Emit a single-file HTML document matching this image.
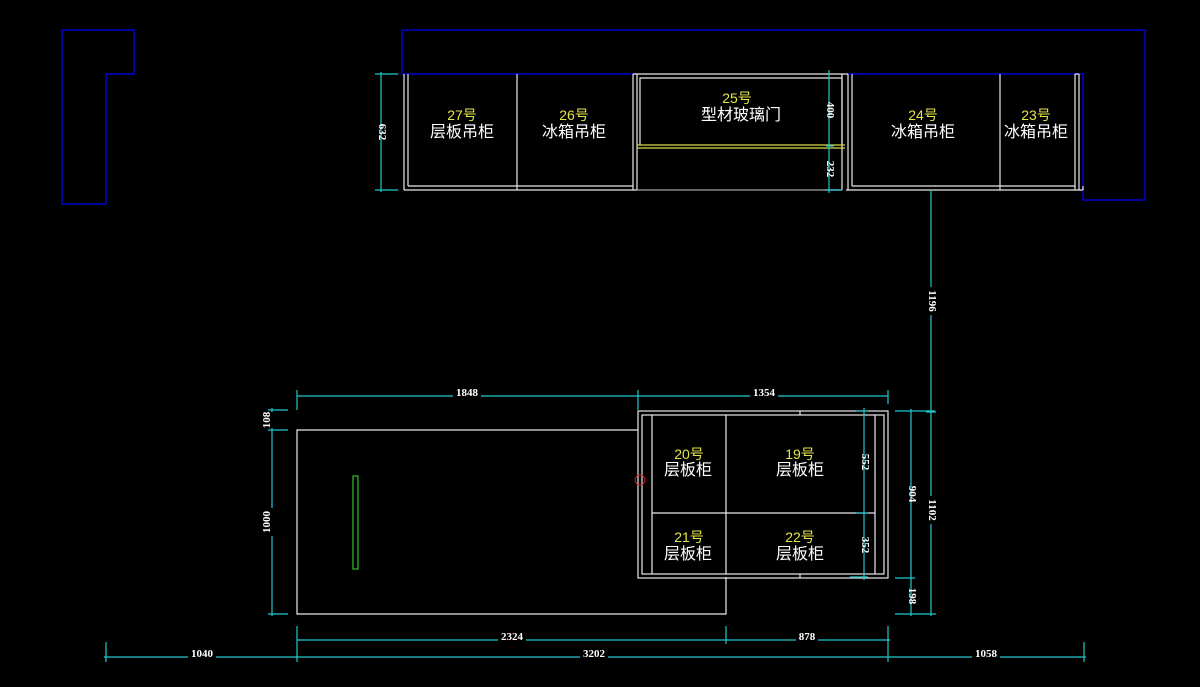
<!DOCTYPE html>
<html><head><meta charset="utf-8"><style>
html,body{margin:0;padding:0;background:#000;width:1200px;height:687px;overflow:hidden}
svg{display:block}
.d{font-family:"Liberation Serif",serif;font-size:11px;fill:#fff;font-weight:bold}
.y{font-family:"Liberation Sans","Noto Sans CJK SC",sans-serif;font-size:14px;fill:#e6e64a;text-anchor:middle}
.w{font-family:"Liberation Sans","Noto Sans CJK SC",sans-serif;font-size:16px;fill:#fff;text-anchor:middle}
</style></head><body>
<svg width="1200" height="687" viewBox="0 0 1200 687" xmlns="http://www.w3.org/2000/svg">
<g fill="none" stroke="#0000d0" stroke-width="1.5">
<polyline points="106,204 62,204 62,30 134,30 134,74 106,74 106,204"/>
<polyline points="402,74 402,30 1145,30 1145,200 1083,200 1083,74 848,74"/>
<line x1="402" y1="74" x2="633" y2="74"/>
</g>
<g fill="none" stroke="#e8e8e8" stroke-width="1.2">
<line x1="404" y1="74" x2="404" y2="190"/><line x1="408" y1="74" x2="408" y2="186"/>
<line x1="404" y1="190" x2="637" y2="190"/><line x1="408" y1="186" x2="633" y2="186"/>
<line x1="517" y1="74" x2="517" y2="190"/>
<line x1="633" y1="74" x2="633" y2="190"/><line x1="637" y1="74" x2="637" y2="190"/>
<line x1="633" y1="74" x2="848" y2="74"/>
<polyline points="640,145 640,78 842,78 842,145"/>
<line x1="842" y1="74" x2="842" y2="190"/><line x1="848" y1="74" x2="848" y2="190"/>
<line x1="846" y1="190" x2="1083" y2="190"/><line x1="852" y1="186" x2="1075" y2="186"/>
<line x1="852" y1="74" x2="852" y2="186"/>
<line x1="1000" y1="74" x2="1000" y2="190"/>
<line x1="1075" y1="74" x2="1075" y2="190"/><line x1="1079" y1="74" x2="1079" y2="190"/>
<line x1="1075" y1="74" x2="1079" y2="74"/><line x1="1083" y1="186" x2="1083" y2="190"/>
<polyline points="638,430 297,430 297,614 726,614 726,577"/>
<rect x="638" y="411" width="250" height="167"/>
<rect x="642" y="415" width="242" height="159"/>
<line x1="652" y1="415" x2="652" y2="574"/><line x1="875" y1="415" x2="875" y2="574"/>
<line x1="652" y1="513" x2="875" y2="513"/>
<line x1="726" y1="415" x2="726" y2="574"/>
<line x1="800" y1="411" x2="800" y2="415"/><line x1="800" y1="574" x2="800" y2="578"/>
</g>
<line x1="637" y1="190" x2="842" y2="190" stroke="#888" stroke-width="1.5"/>
<g stroke="#d8d84a" stroke-width="1.2"><line x1="637" y1="145" x2="845" y2="145"/><line x1="637" y1="148" x2="845" y2="148"/></g>
<rect x="353" y="476" width="5" height="93" fill="none" stroke="#30c030" stroke-width="1.2"/>
<circle cx="640" cy="480" r="5" fill="none" stroke="#d02020" stroke-width="1"/>
<g stroke="#20c8d0" stroke-width="1.2" fill="none">
<line x1="381" y1="72" x2="381" y2="192"/><line x1="375" y1="74" x2="398" y2="74"/><line x1="375" y1="190" x2="398" y2="190"/>
<line x1="829" y1="70" x2="829" y2="193"/><line x1="826" y1="146" x2="834" y2="146"/><line x1="825" y1="190" x2="842" y2="190"/>
<line x1="931" y1="190" x2="931" y2="616"/>
<line x1="926" y1="412" x2="936" y2="412"/>
<line x1="895" y1="411" x2="935" y2="411"/>
<line x1="895" y1="578" x2="915" y2="578"/>
<line x1="895" y1="614" x2="936" y2="614"/>
<line x1="911" y1="409" x2="911" y2="616"/>
<line x1="864" y1="408" x2="864" y2="580"/><line x1="856" y1="411" x2="868" y2="411"/><line x1="856" y1="513" x2="868" y2="513"/><line x1="850" y1="577" x2="868" y2="577"/>
<line x1="297" y1="396" x2="888" y2="396"/>
<line x1="297" y1="390" x2="297" y2="410"/><line x1="638" y1="390" x2="638" y2="410"/><line x1="888" y1="390" x2="888" y2="404"/>
<line x1="272" y1="408" x2="272" y2="616"/>
<line x1="268" y1="410" x2="288" y2="410"/><line x1="268" y1="430" x2="288" y2="430"/><line x1="268" y1="614" x2="288" y2="614"/>
<line x1="297" y1="640" x2="890" y2="640"/>
<line x1="104" y1="657" x2="1086" y2="657"/>
<line x1="297" y1="626" x2="297" y2="662"/><line x1="726" y1="626" x2="726" y2="644"/>
<line x1="888" y1="626" x2="888" y2="662"/>
<line x1="106" y1="642" x2="106" y2="662"/><line x1="1084" y1="642" x2="1084" y2="662"/>
</g>
<g fill="#000">
<rect x="453" y="388" width="28" height="12"/><rect x="750" y="388" width="28" height="12"/>
<rect x="498" y="632" width="28" height="12"/><rect x="796" y="632" width="22" height="12"/>
<rect x="188" y="649" width="28" height="12"/><rect x="580" y="649" width="28" height="12"/><rect x="972" y="649" width="28" height="12"/>
<rect x="920" y="287" width="12" height="28"/><rect x="920" y="496" width="12" height="28"/>
<rect x="264" y="508" width="12" height="28"/><rect x="264" y="412" width="12" height="16"/>
</g>
<g class="d" text-anchor="middle">
<text x="467" y="396">1848</text><text x="764" y="396">1354</text>
<text x="512" y="640">2324</text><text x="807" y="640">878</text>
<text x="202" y="657">1040</text><text x="594" y="657">3202</text><text x="986" y="657">1058</text>
<text transform="translate(379,132) rotate(90)">632</text>
<text transform="translate(827,110) rotate(90)">400</text>
<text transform="translate(827,169) rotate(90)">232</text>
<text transform="translate(929,301) rotate(90)">1196</text>
<text transform="translate(929,510) rotate(90)">1102</text>
<text transform="translate(909,494) rotate(90)">904</text>
<text transform="translate(909,596) rotate(90)">198</text>
<text transform="translate(862,462) rotate(90)">552</text>
<text transform="translate(862,545) rotate(90)">352</text>
<text transform="translate(270,522) rotate(-90)">1000</text>
<text transform="translate(270,420) rotate(-90)">108</text>
</g>
<text class="y" x="462" y="120">27号</text><text class="w" x="462" y="137">层板吊柜</text>
<text class="y" x="574" y="120">26号</text><text class="w" x="574" y="137">冰箱吊柜</text>
<text class="y" x="737" y="103">25号</text><text class="w" x="741" y="120">型材玻璃门</text>
<text class="y" x="923" y="120">24号</text><text class="w" x="923" y="137">冰箱吊柜</text>
<text class="y" x="1036" y="120">23号</text><text class="w" x="1036" y="137">冰箱吊柜</text>
<text class="y" x="689" y="459">20号</text><text class="w" x="688" y="475">层板柜</text>
<text class="y" x="800" y="459">19号</text><text class="w" x="800" y="475">层板柜</text>
<text class="y" x="689" y="542">21号</text><text class="w" x="688" y="559">层板柜</text>
<text class="y" x="800" y="542">22号</text><text class="w" x="800" y="559">层板柜</text>
</svg>
</body></html>
